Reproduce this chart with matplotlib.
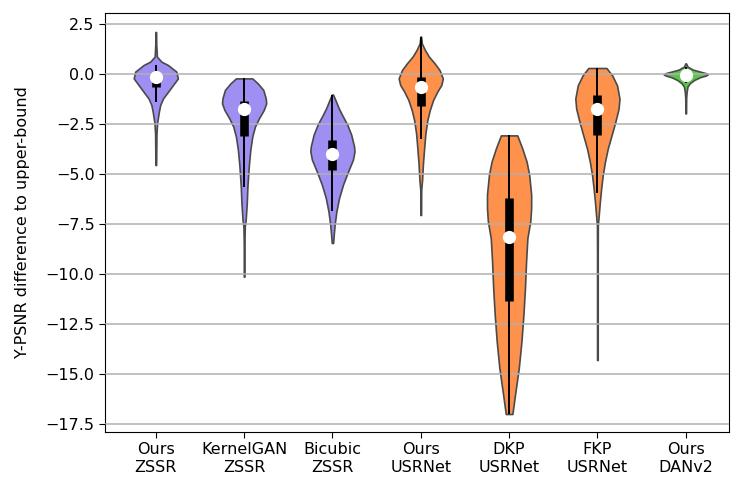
import numpy as np
import matplotlib
matplotlib.use("Agg")
import matplotlib.pyplot as plt

plt.rcParams["font.size"] = 11.5
plt.rcParams["xtick.major.size"] = 4
plt.rcParams["ytick.major.size"] = 4

# x tick labels
labels = ["Ours\nZSSR", "KernelGAN\nZSSR", "Bicubic\nZSSR", "Ours\nUSRNet",
          "DKP\nUSRNet", "FKP\nUSRNet", "Ours\nDANv2"]
fills = ["#9f8ff3", "#9f8ff3", "#9f8ff3", "#fe924d", "#fe924d", "#fe924d", "#5dc44b"]

# violin outlines: y value and relative half width
ours_zssr_y = [2.1, 1.5, 0.87, 0.62, 0.45, 0.12, -0.22, -0.55, -0.88, -1.22, -1.55, -1.88, -2.45, -3.0, -4.55]
ours_zssr_w = [0.015, 0.02, 0.05, 0.25, 0.55, 0.93, 1.0, 0.78, 0.56, 0.33, 0.2, 0.14, 0.06, 0.03, 0.015]

kgan_zssr_y = [-0.22, -0.47, -0.8, -1.22, -1.47, -1.8, -2.22, -2.63, -3.13, -3.8, -4.63, -5.63, -6.47, -7.3, -7.63, -8.5, -10.13]
kgan_zssr_w = [0.37, 0.62, 0.87, 0.98, 1.0, 0.89, 0.67, 0.49, 0.37, 0.28, 0.21, 0.15, 0.12, 0.07, 0.03, 0.015, 0.015]

bic_zssr_y = [-1.03, -1.37, -1.7, -2.03, -2.53, -3.03, -3.62, -3.87, -4.28, -4.87, -5.53, -6.2, -6.87, -7.53, -8.03, -8.45]
bic_zssr_w = [0.03, 0.16, 0.28, 0.43, 0.67, 0.85, 0.98, 1.0, 0.93, 0.71, 0.48, 0.3, 0.18, 0.1, 0.06, 0.03]

ours_usr_y = [1.87, 1.53, 1.2, 0.87, 0.53, 0.2, -0.22, -0.55, -0.88, -1.3, -1.8, -2.3, -2.97, -3.63, -4.47, -5.3, -5.8, -7.05]
ours_usr_w = [0.015, 0.05, 0.19, 0.37, 0.63, 0.85, 1.0, 0.93, 0.75, 0.56, 0.41, 0.3, 0.21, 0.16, 0.1, 0.06, 0.02, 0.015]

dkp_usr_y = [-3.07, -3.7, -4.37, -5.03, -6.03, -6.7, -7.37, -8.2, -9.37, -10.7, -12.03, -13.37, -14.7, -16.03, -17.0]
dkp_usr_w = [0.37, 0.59, 0.79, 0.91, 1.0, 1.0, 0.96, 0.83, 0.77, 0.72, 0.65, 0.56, 0.44, 0.27, 0.15]

fkp_usr_y = [0.3, -0.07, -0.57, -1.23, -1.73, -2.4, -3.07, -3.73, -4.4, -5.07, -5.73, -6.4, -7.07, -7.57, -9.0, -14.3]
fkp_usr_w = [0.41, 0.67, 0.89, 1.0, 0.96, 0.81, 0.64, 0.47, 0.34, 0.24, 0.17, 0.11, 0.06, 0.02, 0.015, 0.015]

ours_dan_y = [0.53, 0.37, 0.22, 0.12, 0.04, -0.02, -0.08, -0.16, -0.3, -0.47, -0.63, -0.9, -1.2, -1.97]
ours_dan_w = [0.015, 0.08, 0.32, 0.65, 0.92, 1.0, 0.9, 0.65, 0.38, 0.18, 0.08, 0.04, 0.02, 0.015]

# box statistics
medians = [-0.17, -1.77, -3.98, -0.67, -8.17, -1.73, -0.05]
q3 = [-0.05, -1.33, -3.28, -0.13, -6.2, -1.07, 0.05]
q1 = [-0.63, -3.1, -4.78, -1.6, -11.37, -3.03, -0.15]
whisk_hi = [0.45, -0.22, -1.03, 1.87, -3.07, 0.3, 0.35]
whisk_lo = [-1.38, -5.63, -6.87, -3.27, -17.0, -5.93, -0.45]

profiles = [(ours_zssr_y, ours_zssr_w), (kgan_zssr_y, kgan_zssr_w), (bic_zssr_y, bic_zssr_w),
            (ours_usr_y, ours_usr_w), (dkp_usr_y, dkp_usr_w), (fkp_usr_y, fkp_usr_w),
            (ours_dan_y, ours_dan_w)]

fig = plt.figure(figsize=(7.31, 4.83), dpi=100)
ax = fig.add_axes([105 / 731, 1 - 432 / 483, 624 / 731, 419 / 483])

half = 0.25
for i, (ys, ws) in enumerate(profiles):
    ys = np.array(ys)
    ws = np.array(ws) * half
    ax.fill_betweenx(ys, i - ws, i + ws, facecolor=fills[i], edgecolor="#4a4a4a",
                     linewidth=1.2, zorder=1)
    ax.plot([i, i], [whisk_lo[i], whisk_hi[i]], color="black", lw=1.4, zorder=3,
            solid_capstyle="butt")
    ax.plot([i, i], [q1[i], q3[i]], color="black", lw=6.2, zorder=3,
            solid_capstyle="butt")
    ax.plot(i, medians[i], "o", color="white", markersize=8.5, zorder=4)

ax.set_xlim(-0.575, 6.49)
ax.set_ylim(-17.9, 3.05)
ax.set_yticks(np.arange(-17.5, 2.6, 2.5))
ax.set_xticks(range(len(labels)))
ax.set_xticklabels(labels)
ax.yaxis.grid(True, color="#b0b0b0", linewidth=1.1, zorder=2)
ax.set_axisbelow(False)
ax.set_ylabel("Y-PSNR difference to upper-bound", labelpad=11)

fig.savefig("out.png", dpi=100)
